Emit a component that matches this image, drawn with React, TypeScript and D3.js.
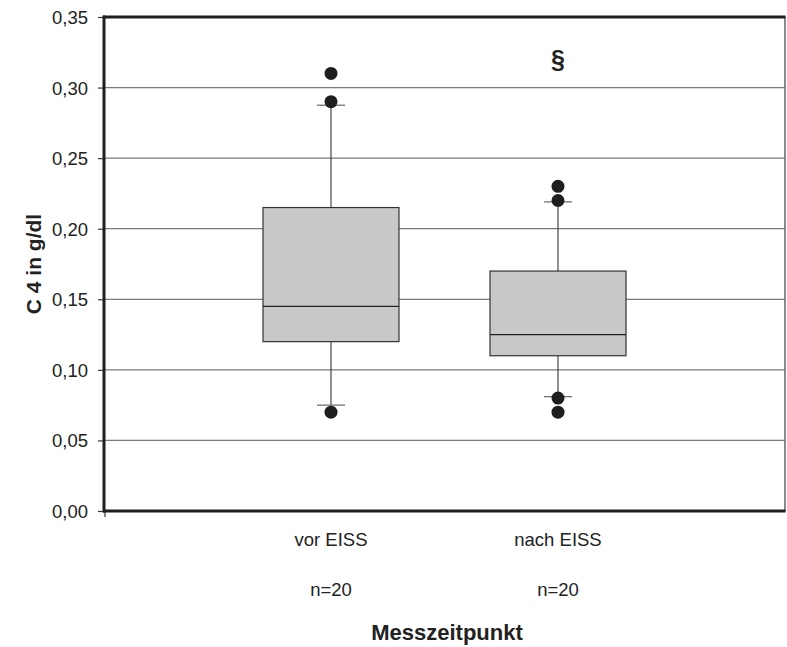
import React, { useEffect, useRef } from 'react';
import * as d3 from 'd3';

// box statistics
const categories = ['vor EISS', 'nach EISS'];
const counts = ['n=20', 'n=20'];
const q1 = [0.12, 0.11];
const median = [0.145, 0.125];
const q3 = [0.215, 0.17];
const whiskerLow = [0.075, 0.081];
const whiskerHigh = [0.2875, 0.219];
const outliers = [
  [0.31, 0.29, 0.07],
  [0.23, 0.22, 0.08, 0.07],
];
const yTicks = [0, 0.05, 0.1, 0.15, 0.2, 0.25, 0.3, 0.35];

const App: React.FC = () => {
  const svgRef = useRef<SVGSVGElement>(null);

  useEffect(() => {
    const width = 787;
    const height = 647;
    const left = 104;
    const right = 785;
    const top = 17;
    const bottom = 511;
    const font = 'Arial, "Liberation Sans", sans-serif';

    const svg = d3.select(svgRef.current)
      .attr('width', width)
      .attr('height', height);
    svg.selectAll('*').remove();

    const x = d3.scaleLinear().domain([0, 3]).range([left, right]);
    const y = d3.scaleLinear().domain([0, 0.35]).range([bottom, top]);
    const fmt = (v: number) => v.toFixed(2).replace('.', ',');

    // grid
    svg.append('g')
      .selectAll('line')
      .data(yTicks.filter(t => t > 0 && t < 0.35))
      .enter()
      .append('line')
      .attr('x1', left)
      .attr('x2', right)
      .attr('y1', d => y(d))
      .attr('y2', d => y(d))
      .attr('stroke', '#7a7a7a')
      .attr('stroke-width', 1.2);

    // y axis
    const yAxis = d3.axisLeft(y)
      .tickValues(yTicks)
      .tickSize(6)
      .tickSizeOuter(0)
      .tickFormat(d => fmt(d as number));
    const ga = svg.append('g')
      .attr('transform', `translate(${left},0)`)
      .call(yAxis);
    ga.select('.domain').remove();
    ga.selectAll('line').attr('stroke', '#333').attr('stroke-width', 1.2);
    ga.selectAll('text')
      .attr('x', -16)
      .attr('dy', '0.35em')
      .attr('font-size', 18.5)
      .attr('font-family', font)
      .attr('fill', '#222');

    // x axis tick at left
    svg.append('line')
      .attr('x1', x(0) + 1).attr('x2', x(0) + 1)
      .attr('y1', bottom).attr('y2', bottom + 6)
      .attr('stroke', '#333').attr('stroke-width', 1.2);

    const boxHalf = 68;
    const capHalf = 14;

    categories.forEach((c, i) => {
      const cx = x(i + 1);
      const g = svg.append('g');
      // whiskers
      g.append('line')
        .attr('x1', cx).attr('x2', cx)
        .attr('y1', y(whiskerHigh[i])).attr('y2', y(q3[i]))
        .attr('stroke', '#222').attr('stroke-width', 1);
      g.append('line')
        .attr('x1', cx).attr('x2', cx)
        .attr('y1', y(q1[i])).attr('y2', y(whiskerLow[i]))
        .attr('stroke', '#222').attr('stroke-width', 1);
      [whiskerHigh[i], whiskerLow[i]].forEach(v => {
        g.append('line')
          .attr('x1', cx - capHalf).attr('x2', cx + capHalf)
          .attr('y1', y(v)).attr('y2', y(v))
          .attr('stroke', '#666').attr('stroke-width', 1.2);
      });
      // box
      g.append('rect')
        .attr('x', cx - boxHalf)
        .attr('y', y(q3[i]))
        .attr('width', boxHalf * 2)
        .attr('height', y(q1[i]) - y(q3[i]))
        .attr('fill', '#c8c8c8')
        .attr('stroke', '#333')
        .attr('stroke-width', 1.2);
      g.append('line')
        .attr('x1', cx - boxHalf).attr('x2', cx + boxHalf)
        .attr('y1', y(median[i])).attr('y2', y(median[i]))
        .attr('stroke', '#222').attr('stroke-width', 1.2);
      // outliers
      g.selectAll('circle')
        .data(outliers[i])
        .enter()
        .append('circle')
        .attr('cx', cx)
        .attr('cy', d => y(d))
        .attr('r', 6.5)
        .attr('fill', '#1e1e1e');
      // labels
      svg.append('text')
        .attr('x', cx).attr('y', 546)
        .attr('text-anchor', 'middle')
        .attr('font-size', 18.5).attr('font-family', font).attr('fill', '#222')
        .text(c);
      svg.append('text')
        .attr('x', cx).attr('y', 596)
        .attr('text-anchor', 'middle')
        .attr('font-size', 18.5).attr('font-family', font).attr('fill', '#222')
        .text(counts[i]);
    });

    // frame
    svg.append('line').attr('x1', right).attr('x2', right).attr('y1', top).attr('y2', bottom)
      .attr('stroke', '#666').attr('stroke-width', 1.5);
    svg.append('line').attr('x1', left - 1).attr('x2', right + 0.5).attr('y1', top).attr('y2', top)
      .attr('stroke', '#1e1e1e').attr('stroke-width', 3);
    svg.append('line').attr('x1', left - 1).attr('x2', right + 0.5).attr('y1', bottom).attr('y2', bottom)
      .attr('stroke', '#1e1e1e').attr('stroke-width', 3);
    svg.append('line').attr('x1', left).attr('x2', left).attr('y1', top - 1.5).attr('y2', bottom + 1.5)
      .attr('stroke', '#1e1e1e').attr('stroke-width', 3);

    // significance mark
    svg.append('text')
      .attr('x', x(2)).attr('y', 68)
      .attr('text-anchor', 'middle')
      .attr('font-size', 25).attr('font-weight', 'bold').attr('font-family', font).attr('fill', '#222')
      .text('§');

    // axis titles
    svg.append('text')
      .attr('x', 447).attr('y', 640)
      .attr('text-anchor', 'middle')
      .attr('font-size', 22).attr('font-weight', 'bold').attr('font-family', font).attr('fill', '#222')
      .text('Messzeitpunkt');
    svg.append('text')
      .attr('transform', `translate(41,${(top + bottom) / 2}) rotate(-90)`)
      .attr('text-anchor', 'middle')
      .attr('font-size', 21).attr('font-weight', 'bold').attr('font-family', font).attr('fill', '#222')
      .text('C 4 in g/dl');
  }, []);

  return <svg ref={svgRef} style={{ position: 'absolute', left: 0, top: 0 }}></svg>;
};

export default App;
